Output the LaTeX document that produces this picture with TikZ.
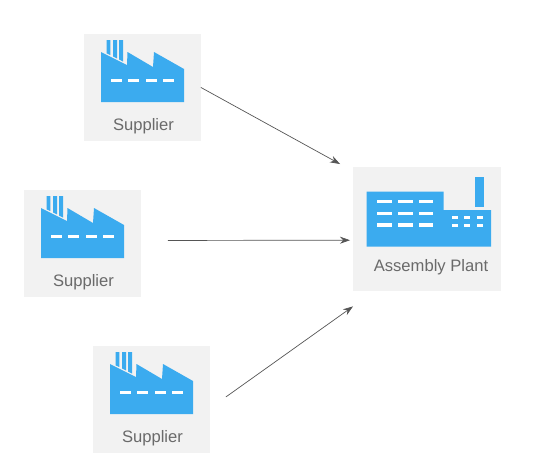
\documentclass[tikz,border=0pt]{standalone}
\usepackage{fontspec}
\setmainfont{Liberation Sans}
\usepackage{tikz}
\usetikzlibrary{arrows.meta,calc}
\definecolor{boxgray}{HTML}{F2F2F2}
\definecolor{iconblue}{HTML}{3BABEF}
\definecolor{labelgray}{HTML}{6A6A6A}
\definecolor{linkgray}{HTML}{555555}

\begin{document}
\begin{tikzpicture}[x=1pt,y=-1pt,
  card/.style={fill=boxgray,inner sep=0pt},
  icon/.style={fill=iconblue,draw=none},
  slot/.style={fill=white,draw=none},
  caption/.style={font=\fontsize{16.6}{18}\selectfont,text=labelgray,inner sep=0pt},
  link/.style={-{Stealth[length=10pt,width=7pt]},linkgray,line width=0.7pt}]
\useasboundingbox (0,0) rectangle (551,471);
\foreach \i/\x/\y in {1/84/34,2/24/190,3/93/346}{
  \node[card,minimum width=116.5pt,minimum height=106.5pt,anchor=north west] (sup\i) at (\x,\y) {};
  \node[caption] (suplabel\i) at ($(sup\i.north west)+(59.5,92.5)$) {Supplier};
  \begin{scope}[shift={(sup\i.north west)}]
    % saw roof
    \fill[icon] (17,18) -- (43,31) -- (43.5,18) -- (69,33) -- (70,18) -- (100,35) -- (100,68) -- (17,68) -- cycle;
    % chimneys
    \fill[icon] (22.5,6) -- (26.3,6) -- (26.3,21) -- (22.5,19.3) -- cycle;
    \fill[icon] (29,6) -- (33,6) -- (33,24.4) -- (29,22.5) -- cycle;
    \fill[icon] (35,6) -- (39,6) -- (39,27.5) -- (35,25.5) -- cycle;
    \foreach \d in {26.7,44.3,62,79.3}
      \fill[slot] (\d,45) rectangle ++(11,3.4);
  \end{scope}
}
\node[card,minimum width=148pt,minimum height=124pt,anchor=north west] (plant) at (353,167) {};
\node[caption] (plantlabel) at ($(plant.north west)+(78,100)$) {Assembly Plant};
\begin{scope}[shift={(plant.north west)}]
  \fill[icon] (13.7,24.7) -- (90.7,24.7) -- (90.7,43) -- (138,43) -- (138,79.7) -- (13.7,79.7) -- cycle;
  \fill[icon] (122,10.3) rectangle (131.3,39.7);
  \foreach \d in {24.3,45.3,66}
    \foreach \e in {33,44.6,56.3}
      \fill[slot] (\d,\e) rectangle ++(14.4,3.4);
  \foreach \d/\w in {98.7/6.6,111.3/5.7,123.7/6}
    \foreach \e in {48.6,57}
      \fill[slot] (\d,\e) rectangle ++(\w,3.4);
\end{scope}
% arrow ends
\coordinate (out1) at ($(sup1.east)+(0,0)$);
\coordinate (in1) at ($(plant.north west)+(-13,-3)$);
\coordinate (out2) at ($(sup2.east)+(27,-3)$);
\coordinate (in2) at ($(plant.west)+(-3,11)$);
\coordinate (out3) at ($(sup3.east)+(16,-2.5)$);
\coordinate (in3) at ($(plant.south west)+(0,15)$);
\draw[link] (out1) -- (in1);
\draw[link] (out2) -- (in2);
\draw[link] (out3) -- (in3);
\end{tikzpicture}
\end{document}
